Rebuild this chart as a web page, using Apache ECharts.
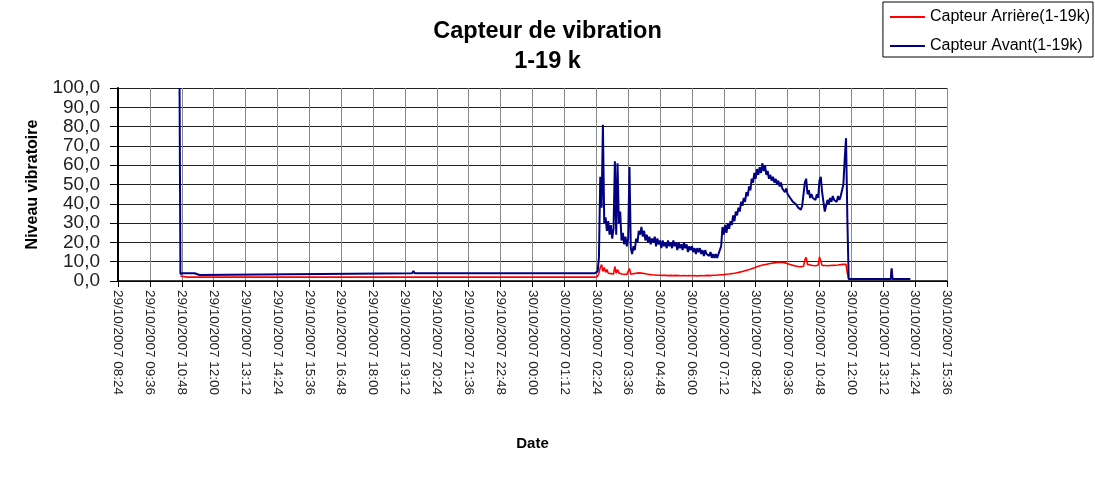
<!DOCTYPE html>
<html lang="fr">
<head>
<meta charset="utf-8">
<title>Capteur de vibration</title>
<script src="https://cdn.jsdelivr.net/npm/echarts@6/dist/echarts.min.js"></script>
<style>
    html, body { margin: 0; padding: 0; background: #fff; }
    #main { width: 1095px; height: 490px; }
</style>
</head>
<body>
<div id="main"></div>
<script type="text/javascript">
// temps en minutes depuis le 29/10/2007 00:00
var xMin = 504;     // 29/10/2007 08:24
var xMax = 2376;    // 30/10/2007 15:36
var xPas = 72;

var xTickLabels = [
    '29/10/2007 08:24', '29/10/2007 09:36', '29/10/2007 10:48', '29/10/2007 12:00',
    '29/10/2007 13:12', '29/10/2007 14:24', '29/10/2007 15:36', '29/10/2007 16:48',
    '29/10/2007 18:00', '29/10/2007 19:12', '29/10/2007 20:24', '29/10/2007 21:36',
    '29/10/2007 22:48', '30/10/2007 00:00', '30/10/2007 01:12', '30/10/2007 02:24',
    '30/10/2007 03:36', '30/10/2007 04:48', '30/10/2007 06:00', '30/10/2007 07:12',
    '30/10/2007 08:24', '30/10/2007 09:36', '30/10/2007 10:48', '30/10/2007 12:00',
    '30/10/2007 13:12', '30/10/2007 14:24', '30/10/2007 15:36'
];

// parties calmes : [minute, niveau]
var avantDebut = [[643, 100], [645, 3.6], [650, 4.0], [677, 4.0], [680, 3.0], [688, 3.1], [691, 4.0],
    [1168, 4.0], [1171, 5.2], [1174, 4.0], [1319, 4.0], [1322, 5.0], [1325, 4.0], [1581, 4.0]];
var avantFin = [[2157, 1.0], [2249, 1.0], [2251, 6.5], [2253, 1.0], [2293, 1.0]];
var arriereDebut = [[645, 2.6], [660, 2.0], [1581, 2.0]];
var arriereFin = [[2157, 1.0], [2249, 1.0], [2251, 6.0], [2253, 1.0], [2293, 1.0]];

// partie active : un relevé toutes les 3 minutes depuis 30/10/2007 02:24
var actifDebut = 1584;
var actifPas = 3;
var avantActif = [
    4.0, 5, 12, 54, 38, 81, 30, 33, 26, 31,
    24, 29, 22, 27, 62, 24, 61, 30, 36, 21,
    25, 19, 23, 18, 22, 59, 17, 14, 18, 16,
    22, 20, 26, 24, 28, 23, 26, 21, 24, 20,
    23, 19, 22, 20, 23, 18, 22, 19, 21, 17,
    21, 18, 20, 17, 21, 18, 20, 17, 21, 18,
    20, 16, 20, 17, 19, 16, 20, 17, 19, 15,
    18, 16, 18, 15, 17, 14, 17, 15, 17, 14,
    16, 13, 16, 14, 15, 13, 15, 12, 14, 12,
    14, 12, 14, 13, 18, 28, 24, 29, 25, 30,
    27, 31, 29, 34, 31, 36, 34, 38, 36, 41,
    39, 43, 41, 46, 44, 49, 47, 53, 51, 56,
    53, 58, 55, 59, 56, 61, 57, 60, 55, 57,
    53, 55, 52, 54, 51, 53, 50, 52, 49, 51,
    48, 49, 46, 48, 45, 46, 43, 44, 41, 42,
    40, 41, 38, 39, 37, 39, 38, 51, 53, 45,
    47, 43, 45, 43, 44, 42, 45, 43, 52, 54,
    46, 45, 36, 35, 42, 40, 43, 41, 44, 42,
    43, 41, 44, 42, 44, 45, 50, 63, 74, 32,
    1
];
var arriereActif = [
    2.0, 2.5, 4, 7, 8.5, 5, 7, 4.5, 6, 4,
    5, 3.8, 4.5, 3.6, 7.5, 4, 6, 4.2, 5, 3.6,
    4.2, 3.5, 4, 3.4, 4, 6.5, 3.5, 3.2, 3.8, 3.4,
    4, 3.6, 4.2, 3.8, 4.1, 3.6, 3.9, 3.3, 3.6, 3.1,
    3.4, 2.9, 3.2, 2.8, 3.1, 2.7, 3.0, 2.6, 3.0, 2.7,
    2.9, 2.6, 3.0, 2.5, 2.8, 2.6, 2.9, 2.5, 2.8, 2.6,
    2.9, 2.5, 2.8, 2.4, 2.7, 2.5, 2.8, 2.4, 2.7, 2.5,
    2.8, 2.4, 2.7, 2.5, 2.8, 2.4, 2.6, 2.5, 2.8, 2.4,
    2.7, 2.5, 2.8, 2.5, 2.9, 2.6, 2.8, 2.6, 3.0, 2.7,
    3.0, 2.8, 3.1, 2.9, 3.2, 3.0, 3.3, 3.1, 3.5, 3.3,
    3.6, 3.4, 3.8, 3.6, 4.0, 3.9, 4.3, 4.1, 4.6, 4.4,
    4.9, 4.8, 5.3, 5.1, 5.7, 5.5, 6.1, 6.0, 6.6, 6.5,
    7.1, 7.0, 7.6, 7.5, 8.0, 8.1, 8.4, 8.8, 8.6, 9.2,
    8.9, 9.5, 9.2, 9.8, 9.4, 10.0, 9.6, 10.1, 9.7, 10.2,
    9.6, 10.0, 9.4, 9.7, 9.0, 9.3, 8.5, 8.9, 8.1, 8.4,
    7.8, 8.1, 7.5, 7.9, 7.4, 7.8, 7.6, 11.0, 12.2, 8.6,
    9.2, 8.3, 8.9, 8.0, 8.6, 7.9, 8.8, 8.2, 12.5, 11.8,
    8.1, 7.4, 8.0, 7.2, 7.9, 7.3, 8.0, 7.4, 8.1, 7.5,
    8.2, 7.6, 8.3, 7.8, 8.5, 8.0, 8.7, 9.3, 8.6, 4.0,
    1.0
];

function serie(debut, actif, fin) {
    var pts = debut.slice();
    for (var i = 0; i < actif.length; i++) {
        pts.push([actifDebut + i * actifPas, actif[i]]);
    }
    return pts.concat(fin);
}

var police = 'Liberation Sans, Arial, sans-serif';

var myChart = echarts.init(document.getElementById('main'));
var option = {
    animation: false,
    backgroundColor: '#fff',
    title: {
        text: 'Capteur de vibration\n1-19 k',
        left: 'center',
        top: 12,
        textStyle: { fontFamily: police, fontSize: 23.5, fontWeight: 'bold', color: '#000', lineHeight: 30 }
    },
    legend: {
        orient: 'vertical',
        right: 2,
        top: 2,
        padding: [7, 3, 3, 7],
        icon: 'rect',
        itemWidth: 35,
        itemHeight: 2,
        itemGap: 13,
        backgroundColor: '#fff',
        borderColor: '#000',
        borderWidth: 1,
        textStyle: { fontFamily: police, fontSize: 16, color: '#000', lineHeight: 14 },
        data: ['Capteur Arrière(1-19k)', 'Capteur Avant(1-19k)']
    },
    grid: { left: 118, right: 148, top: 88, bottom: 209 },
    xAxis: {
        type: 'value',
        min: xMin,
        max: xMax,
        interval: xPas,
        name: 'Date',
        nameLocation: 'middle',
        nameGap: 155,
        nameTextStyle: { fontFamily: police, fontSize: 15, fontWeight: 'bold', color: '#000' },
        axisLine: { lineStyle: { color: '#000', width: 1.5 } },
        axisTick: { length: 6, lineStyle: { color: '#000' } },
        axisLabel: {
            rotate: -90,
            margin: 9,
            fontFamily: police,
            fontSize: 13.5,
            color: '#222',
            formatter: function (v) {
                return xTickLabels[Math.round((v - xMin) / xPas)] || '';
            }
        },
        splitLine: { show: true, lineStyle: { color: '#888', width: 1 } }
    },
    yAxis: {
        type: 'value',
        min: 0,
        max: 100,
        interval: 10,
        name: 'Niveau vibratoire',
        nameLocation: 'middle',
        nameGap: 77,
        nameTextStyle: { fontFamily: police, fontSize: 16, fontWeight: 'bold', color: '#000' },
        axisLine: { show: true, lineStyle: { color: '#000', width: 2 } },
        axisTick: { show: true, length: 8, lineStyle: { color: '#000' } },
        axisLabel: {
            margin: 18,
            fontFamily: police,
            fontSize: 19,
            color: '#222',
            formatter: function (v) { return v.toFixed(1).replace('.', ','); }
        },
        splitLine: { show: true, lineStyle: { color: '#222', width: 1 } }
    },
    series: [
        {
            name: 'Capteur Arrière(1-19k)',
            type: 'line',
            symbol: 'none',
            color: '#ff0000',
            lineStyle: { width: 1.6, color: '#ff0000' },
            data: serie(arriereDebut, arriereActif, arriereFin)
        },
        {
            name: 'Capteur Avant(1-19k)',
            type: 'line',
            symbol: 'none',
            color: '#000080',
            lineStyle: { width: 2, color: '#000080' },
            data: serie(avantDebut, avantActif, avantFin)
        }
    ]
};
myChart.setOption(option);
</script>
</body>
</html>
